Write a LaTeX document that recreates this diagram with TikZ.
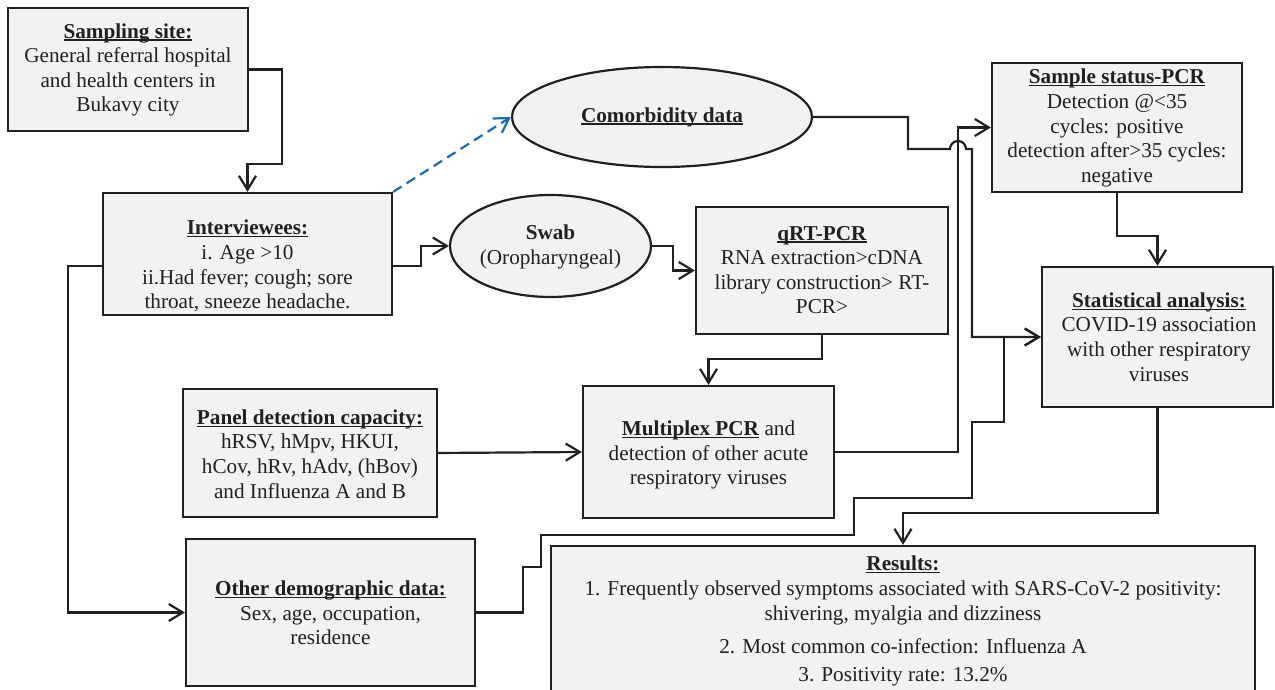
\documentclass[tikz,border=0pt]{standalone}
\usepackage{fontspec}
\setmainfont{Liberation Serif}
\usetikzlibrary{arrows.meta,shapes.geometric,calc}
\definecolor{ink}{RGB}{35,31,32}
\definecolor{boxfill}{RGB}{241,242,244}
\definecolor{dashblue}{RGB}{28,108,168}
% bold heading with a rule just under the baseline
\newcommand{\hd}[1]{\setbox0\hbox{\textbf{#1}}\rlap{\rule[-2.6pt]{\wd0}{1.3pt}}\box0\relax}

\begin{document}
\begin{tikzpicture}[x=1pt,y=-1pt,
  every node/.style={text=ink},
  box/.style={draw=ink, fill=boxfill, line width=2.2pt, rectangle, inner sep=0pt},
  oval/.style={draw=ink, fill=boxfill, line width=2.2pt, ellipse, inner sep=0pt},
  txt/.style={align=center, font=\fontsize{21.2}{24.6}\selectfont, inner sep=0pt},
  link/.style={draw=ink, line width=2.2pt},
  arr/.style={link, -{Straight Barb[length=14pt,width=17pt]}},
  dasharr/.style={draw=dashblue, line width=2.2pt, dash pattern=on 10pt off 6pt,
    -{Straight Barb[length=14pt,width=17pt]}},
]
\useasboundingbox (0,0) rectangle (1275,690);
\clip (0,0) rectangle (1275,690);

% boxes and ovals
\node[box, minimum width=240, minimum height=123] (site) at (128,69.5) {};
\node[box, minimum width=289, minimum height=122] (inter) at (247.5,254) {};
\node[oval, minimum width=300, minimum height=100] (comor) at (662,117) {};
\node[oval, minimum width=201, minimum height=102] (swab) at (550.5,246) {};
\node[box, minimum width=252, minimum height=127] (qrt) at (822,270.5) {};
\node[box, minimum width=250, minimum height=129] (status) at (1117,127.5) {};
\node[box, minimum width=231, minimum height=140] (stat) at (1157.5,337) {};
\node[box, minimum width=254, minimum height=128] (panel) at (310,453) {};
\node[box, minimum width=251, minimum height=132] (multi) at (708.5,452) {};
\node[box, minimum width=289, minimum height=147] (demo) at (330.5,612.5) {};
\node[box, minimum width=704, minimum height=154] (res) at (903,623) {};

% texts
\node[txt] (sitet) at (128,70) {\hd{Sampling site:}\\General referral hospital\\and health centers in\\Bukavy city};
\node[txt] (intert) at (247.5,266) {\hd{Interviewees:}\\i. Age >10\\ii.Had fever; cough; sore\\throat, sneeze headache.};
\node[txt] (comort) at (662,117) {\hd{Comorbidity data}};
\node[txt] (swabt) at (550.5,247) {\textbf{Swab}\\(Oropharyngeal)};
\node[txt] (qrtt) at (822,270) {\hd{qRT-PCR}\\RNA extraction>cDNA\\library construction> RT-\\PCR>};
\node[txt] (statust) at (1117,128) {\hd{Sample status-PCR}\\Detection @<35\\cycles: positive\\detection after>35 cycles:\\negative};
\node[txt] (statt) at (1159,337) {\hd{Statistical analysis:}\\COVID-19 association\\with other respiratory\\viruses};
\node[txt] (panelt) at (310,454) {\hd{Panel detection capacity:}\\hRSV, hMpv, HKUI,\\hCov, hRv, hAdv, (hBov)\\and Influenza A and B};
\node[txt] (multit) at (708.5,455) {\hd{Multiplex PCR} and\\detection of other acute\\respiratory viruses};
\node[txt] (demot) at (330.5,613) {\hd{Other demographic data:}\\Sex, age, occupation,\\residence};
\node[txt] (rest) at (903,621) {\hd{Results:}\\1. Frequently observed symptoms associated with SARS-CoV-2 positivity:\\shivering, myalgia and dizziness\\[8.5pt]2. Most common co-infection: Influenza A\\[3.5pt]3. Positivity rate: 13.2\%};

% connectors
\draw[arr] (site.east) -| (282,164) -| (inter.north);
\draw[dasharr] (inter.north east) -- (comor.west);
\draw[arr] ($(inter.east)+(0,12)$) -| (421,246) -- (swab.west);
\draw[arr] (swab.east) -| (673,270.5) -- (qrt.west);
\draw[arr] (qrt.south) -- ++(0,24) -| (multi.north);
\draw[arr] (panel.east) -- (multi.west);
\draw[arr] (multi.east) -| (958,127.5) -- (status.west);
\draw[arr] (comor.east) -| (908,149) -- (950,149)
  arc[start angle=180, end angle=0, radius=8pt] -- (972,149) |- (stat.west);
\draw[arr] (demo.east) -| (523,567) -| (541,535) -| (854,498) -| (972,422) -| (1004,337) -- (stat.west);
\draw[arr] (status.south) -- ++(0,43) -| (stat.north);
\draw[arr] (stat.south) -- ++(0,105) -| (res.north);
\draw[arr] ($(inter.west)+(0,12)$) -| (68,612.5) -- (demo.west);
\end{tikzpicture}
\end{document}
